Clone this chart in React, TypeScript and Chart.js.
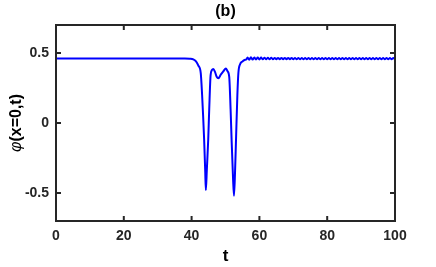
import React, { useEffect, useRef } from "react";
import { Chart, registerables } from "chart.js";

Chart.register(...registerables);

const titleText = "(b)";
const xLabel = "t";
const yLabelSymbol = "φ";
const yLabelRest = "(x=0,t)";

const xTicks = [0, 20, 40, 60, 80, 100];
const yTicks = [-0.5, 0, 0.5];

const tValues = [
  0, 10, 20, 30, 38, 39.5, 40.5, 41.3, 42.0, 42.7, 43.1, 43.4, 43.7, 44.0, 44.2, 44.5, 44.9, 45.2, 45.6, 46.0,
  46.4, 46.9, 47.4, 47.9, 48.6, 49.4, 50.1, 50.6, 51.1, 51.5, 51.8, 52.2, 52.5, 52.8, 53.1, 53.5, 53.8, 54.3,
  55.0, 55.6, 56.2,
  56.5, 57, 57.5, 58, 58.5, 59, 59.5, 60, 60.5, 61, 61.5, 62, 62.5, 63, 63.5, 64, 64.5, 65, 65.5, 66, 66.5,
  67, 67.5, 68, 68.5, 69, 69.5, 70, 70.5, 71, 71.5, 72, 72.5, 73, 73.5, 74, 74.5, 75, 75.5, 76, 76.5, 77,
  77.5, 78, 78.5, 79, 79.5, 80, 80.5, 81, 81.5, 82, 82.5, 83, 83.5, 84, 84.5, 85, 85.5, 86, 86.5, 87, 87.5,
  88, 88.5, 89, 89.5, 90, 90.5, 91, 91.5, 92, 92.5, 93, 93.5, 94, 94.5, 95, 95.5, 96, 96.5, 97, 97.5, 98,
  98.5, 99, 99.5, 100,
];

const phiValues = [
  0.46, 0.46, 0.46, 0.46, 0.46, 0.459, 0.455, 0.44, 0.41, 0.357, 0.2, 0.05, -0.12, -0.33, -0.48, -0.33, -0.12,
  0.1, 0.34, 0.378, 0.385, 0.365, 0.33, 0.32, 0.345, 0.37, 0.39, 0.37, 0.33, 0.1, -0.12, -0.38, -0.52, -0.36,
  -0.12, 0.2, 0.357, 0.42, 0.44, 0.45, 0.455,
  0.468, 0.452, 0.469, 0.453, 0.468, 0.454, 0.467, 0.454, 0.467, 0.455, 0.466, 0.455, 0.466, 0.455, 0.466,
  0.455, 0.465, 0.456, 0.465, 0.456, 0.465, 0.456, 0.465, 0.456, 0.465, 0.456, 0.465, 0.456, 0.464, 0.456,
  0.464, 0.456, 0.464, 0.456, 0.464, 0.456, 0.464, 0.456, 0.464, 0.456, 0.464, 0.456, 0.464, 0.456, 0.464,
  0.456, 0.464, 0.456, 0.464, 0.456, 0.464, 0.456, 0.464, 0.456, 0.464, 0.456, 0.464, 0.456, 0.464, 0.456,
  0.464, 0.456, 0.464, 0.456, 0.464, 0.456, 0.464, 0.456, 0.464, 0.456, 0.464, 0.456, 0.464, 0.456, 0.464,
  0.456, 0.464, 0.456, 0.464, 0.456, 0.464, 0.456, 0.464, 0.456, 0.464, 0.456, 0.464, 0.456, 0.464, 0.456,
  0.464, 0.456, 0.464, 0.456,
];

const FONT = "'Liberation Sans', Arial, Helvetica, sans-serif";
const AXIS_COLOR = "#262626";

const framePlugin = {
  id: "frameTicks",
  afterDatasetsDraw(chart: any) {
    const { ctx, chartArea, scales } = chart;
    const { left, right, top, bottom } = chartArea;
    const xs = scales.x;
    const ys = scales.y;
    ctx.save();
    ctx.strokeStyle = AXIS_COLOR;
    ctx.lineWidth = 2;
    ctx.strokeRect(left, top, right - left, bottom - top);
    const tl = 5;
    ctx.beginPath();
    xTicks.forEach((v) => {
      const px = xs.getPixelForValue(v);
      ctx.moveTo(px, bottom);
      ctx.lineTo(px, bottom - tl);
      ctx.moveTo(px, top);
      ctx.lineTo(px, top + tl);
    });
    yTicks.forEach((v) => {
      const py = ys.getPixelForValue(v);
      ctx.moveTo(left, py);
      ctx.lineTo(left + tl, py);
      ctx.moveTo(right, py);
      ctx.lineTo(right - tl, py);
    });
    ctx.stroke();

    ctx.fillStyle = "#000";
    ctx.textAlign = "center";
    ctx.textBaseline = "middle";
    ctx.font = `bold 16px ${FONT}`;
    ctx.fillText(titleText, (left + right) / 2, 12);

    ctx.font = `bold 17px ${FONT}`;
    ctx.fillText(xLabel, (left + right) / 2, 256);

    ctx.save();
    ctx.translate(17, (top + bottom) / 2);
    ctx.rotate(-Math.PI / 2);
    ctx.font = `italic 16px ${FONT}`;
    const w1 = ctx.measureText(yLabelSymbol).width;
    ctx.font = `bold 16px ${FONT}`;
    const w2 = ctx.measureText(yLabelRest).width;
    const start = -(w1 + w2) / 2;
    ctx.textAlign = "left";
    ctx.font = `italic 16px ${FONT}`;
    ctx.fillText(yLabelSymbol, start, 0);
    ctx.font = `bold 16px ${FONT}`;
    ctx.fillText(yLabelRest, start + w1, 0);
    ctx.restore();
    ctx.restore();
  },
};

export default function App() {
  const ref = useRef<HTMLCanvasElement | null>(null);
  useEffect(() => {
    document.body.style.margin = "0";
    const canvas = ref.current;
    if (!canvas) return;
    const points = tValues.map((t, i) => ({ x: t, y: phiValues[i] }));
    const chart = new Chart(canvas, {
      type: "line",
      data: {
        datasets: [
          {
            data: points,
            borderColor: "#0000ff",
            borderWidth: 2,
            pointRadius: 0,
            cubicInterpolationMode: "monotone",
            fill: false,
          },
        ],
      },
      options: {
        animation: false,
        responsive: false,
        devicePixelRatio: 1,
        layout: { padding: { left: 0, right: 41, top: 25, bottom: 0 } },
        plugins: { legend: { display: false }, title: { display: false }, tooltip: { enabled: false } },
        scales: {
          x: {
            type: "linear",
            min: 0,
            max: 100,
            grid: { display: false, drawTicks: false },
            border: { display: false },
            afterBuildTicks: (s: any) => {
              s.ticks = xTicks.map((v) => ({ value: v }));
            },
            afterFit: (s: any) => {
              s.height = 46;
            },
            ticks: {
              color: "#262626",
              padding: 7,
              maxRotation: 0,
              font: { family: FONT, size: 14, weight: "bold" },
              callback: (v: any) => String(v),
            },
          },
          y: {
            type: "linear",
            min: -0.7,
            max: 0.7,
            grid: { display: false, drawTicks: false },
            border: { display: false },
            afterBuildTicks: (s: any) => {
              s.ticks = yTicks.map((v) => ({ value: v }));
            },
            afterFit: (s: any) => {
              s.width = 56;
            },
            ticks: {
              color: "#262626",
              padding: 7,
              font: { family: FONT, size: 14, weight: "bold" },
              callback: (v: any) => String(v),
            },
          },
        },
      },
      plugins: [framePlugin],
    } as any);
    return () => chart.destroy();
  }, []);
  return (
    <div style={{ width: 436, height: 267, background: "#fff" }}>
      <canvas ref={ref} width={436} height={267} style={{ display: "block" }} />
    </div>
  );
}
